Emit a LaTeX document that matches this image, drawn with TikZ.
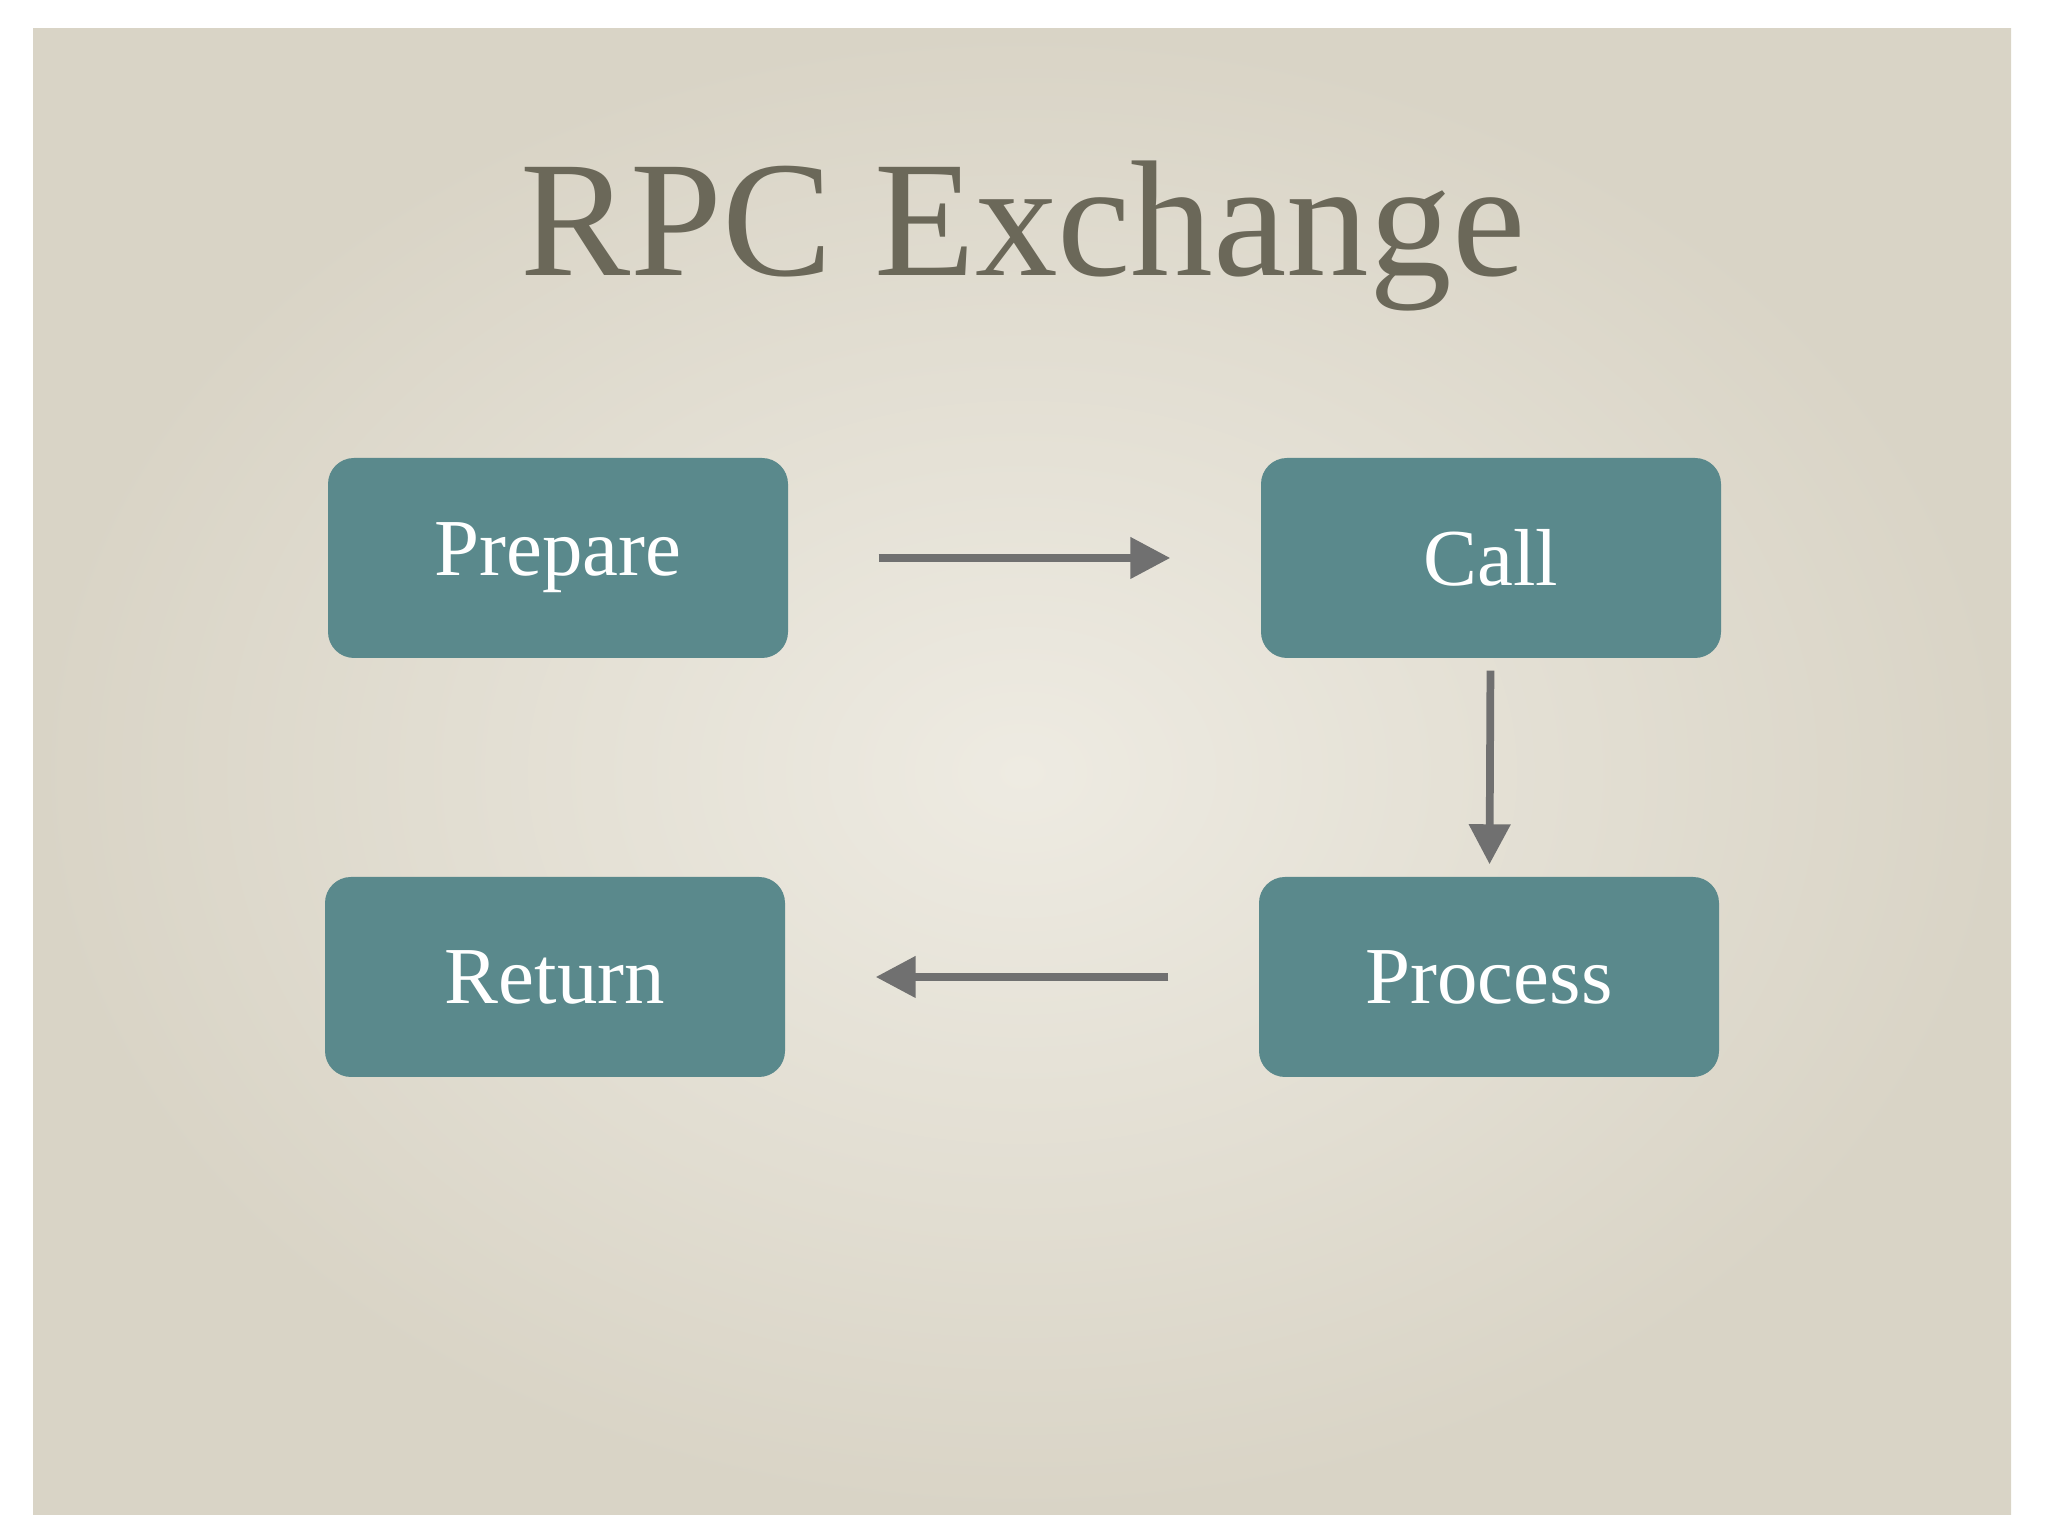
\documentclass[tikz,border=0pt]{standalone}
\usepackage{fontspec}
\setmainfont{Liberation Serif}
\usetikzlibrary{arrows.meta}
\definecolor{paper}{HTML}{EEEBE2}
\definecolor{paperedge}{HTML}{D9D4C6}
\definecolor{teal}{HTML}{5A898C}
\definecolor{titlegrey}{HTML}{6B6859}
\definecolor{arrowgrey}{HTML}{707070}
\tikzset{
    stage/.style = {fill=teal, rounded corners=0.26cm, minimum width=4.6cm, minimum height=2cm,
        text=white, font=\fontsize{23}{26}\selectfont},
    flow/.style = {-{Triangle[length=0.4cm,width=0.4cm]}, line width=2.2pt, draw=arrowgrey}
}

\begin{document}
\begin{tikzpicture}
    \useasboundingbox (0,0) rectangle (20.48,15.36);
    \shade[inner color=paper, outer color=paperedge] (0.33,0.21) rectangle (20.11,15.07);

    \node[text=titlegrey, font=\fontsize{47}{52}\selectfont] (title) at (10.23,13.0) {RPC Exchange};

    \node[stage] (prepare) at (5.58,9.78) {Prepare};
    \node[stage] (call) at (14.91,9.78) {Call};
    \node[stage] (return) at (5.55,5.59) {Return};
    \node[stage] (process) at (14.89,5.59) {Process};

    \draw [flow, shorten <=0.9cm, shorten >=0.9cm] (prepare)--(call);
    \draw [flow, shorten <=0.12cm, shorten >=0.12cm] (call)--(process);
    \draw [flow, shorten <=0.9cm, shorten >=0.9cm] (process)--(return);

\end{tikzpicture}
\end{document}
